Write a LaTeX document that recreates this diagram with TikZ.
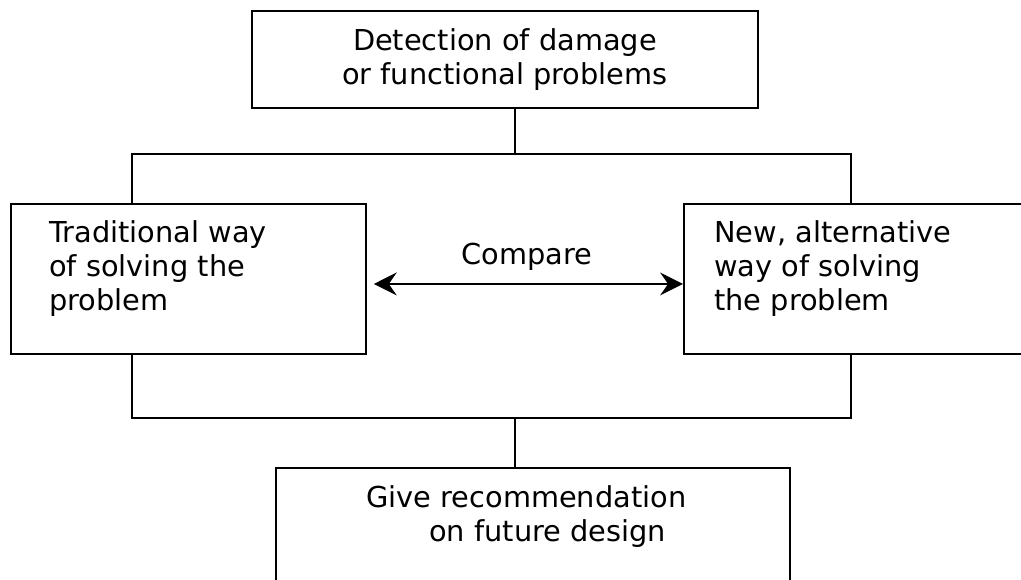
\documentclass[tikz,border=0pt]{standalone}
\usepackage{fontspec}
\setmainfont{DejaVu Sans}
\usetikzlibrary{arrows.meta}
\usetikzlibrary{positioning}

\tikzset{
  box/.style={draw, line width=1.1pt, inner sep=0pt, anchor=north west},
  txt/.style={inner sep=0pt, anchor=north west, align=left},
  link/.style={line width=1.1pt},
}

\begin{document}
\begin{tikzpicture}[x=0.02cm, y=-0.02cm, font=\fontsize{16.4}{19.3}\selectfont]
                \useasboundingbox (0, 0) rectangle (1021, 580);
                \clip (0, 0) rectangle (1021, 580);

                \node[box, minimum width=10.12cm, minimum height=1.94cm, align=center] (detect) at (251, 10) {Detection of damage\\or functional problems};
                \node[box, minimum width=7.1cm, minimum height=3cm] (trad) at (10, 203) {};
                \node[box, minimum width=7.2cm, minimum height=3cm] (newway) at (683, 203) {};
                \node[box, minimum width=10.28cm, minimum height=2.8cm] (recom) at (275, 467) {};

                \node[txt] (tradtxt) at ([shift={(39, 17)}]trad.north west) {Traditional way\\of solving the\\problem};
                \node[txt] (newtxt) at ([shift={(31, 17)}]newway.north west) {New, alternative\\way of solving\\the problem};
                \node[txt] (recomtxt) at ([shift={(91, 18)}]recom.north west) {Give recommendation\\\hspace*{1.26cm}on future design};
                \node[anchor=base, inner sep=0pt] (cmp) at (527, 265) {Compare};

                % connectors
                \coordinate (split) at (515, 154);
                \coordinate (merge) at (515, 418);
                \coordinate (lsplit) at (132, 154);
                \coordinate (rsplit) at (851, 154);
                \coordinate (lmerge) at (132, 418);
                \coordinate (rmerge) at (851, 418);

                \draw[link] (detect.south -| split) -- (split);
                \draw[link] (trad.north -| lsplit) -- (lsplit) -- (rsplit) -- (newway.north -| rsplit);
                \draw[link] (trad.south -| lmerge) -- (lmerge) -- (rmerge) -- (newway.south -| rmerge);
                \draw[link] (merge) -- (recom.north -| merge);
                \draw[link, {Stealth[length=13pt, width=13pt, inset=4.5pt]}-{Stealth[length=13pt, width=13pt, inset=4.5pt]}] ([shift={(7, 5)}]trad.east) -- ([shift={(0, 5)}]newway.west);
            \end{tikzpicture}
\end{document}
